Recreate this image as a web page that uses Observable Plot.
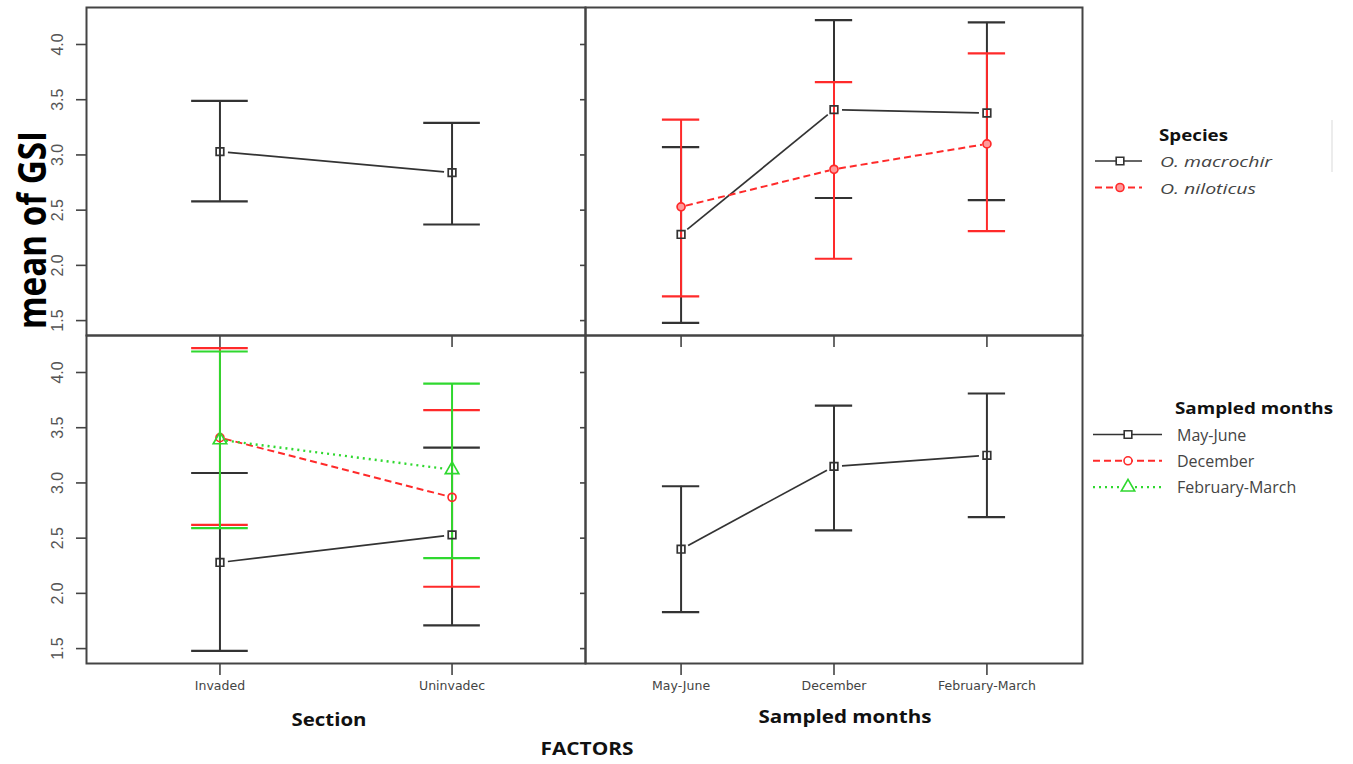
<!DOCTYPE html>
<html><head><meta charset="utf-8">
<script src="https://cdn.jsdelivr.net/npm/d3@7"></script>
<script src="https://cdn.jsdelivr.net/npm/@observablehq/plot@0.6"></script>
<style>
body{margin:0;background:#fff;}
#wrap{position:relative;width:1353px;height:764px;overflow:hidden;background:#fff;}
.abs{position:absolute;}
</style></head><body><div id="wrap"></div>
<script>
// ---- categories / tick labels ----
const sections = ["Invaded", "Uninvadec"];
const months = ["May-June", "December", "February-March"];
const speciesNames = ["O. macrochir", "O. niloticus"];
const monthNames = ["May-June", "December", "February-March"];
const yTicks = [1.5, 2.0, 2.5, 3.0, 3.5, 4.0];

// ---- top-left: Section ----
const sectionMean  = [3.03, 2.84];
const sectionLower = [2.58, 2.37];
const sectionUpper = [3.49, 3.29];

// ---- top-right: Species x Sampled months ----
const macrochirMean  = [2.28, 3.41, 3.38];
const macrochirLower = [1.48, 2.61, 2.59];
const macrochirUpper = [3.07, 4.22, 4.20];
const niloticusMean  = [2.53, 2.87, 3.10];
const niloticusLower = [1.72, 2.06, 2.31];
const niloticusUpper = [3.32, 3.66, 3.92];

// ---- bottom-left: Section x Sampled months ----
const mayJuneMean   = [2.28, 2.53];
const mayJuneLower  = [1.48, 1.71];
const mayJuneUpper  = [3.09, 3.32];
const decemberMean  = [3.41, 2.87];
const decemberLower = [2.62, 2.06];
const decemberUpper = [4.22, 3.66];
const febMarchMean  = [3.39, 3.12];
const febMarchLower = [2.59, 2.32];
const febMarchUpper = [4.19, 3.90];

// ---- bottom-right: Sampled months ----
const monthMean  = [2.40, 3.15, 3.25];
const monthLower = [1.83, 2.57, 2.69];
const monthUpper = [2.97, 3.70, 3.81];

// ---- styles ----
const STY = {
  black: {color:"#333", dash:null, symbol:"square", r:4.3, fill:"none", inset:8, lw:1.7},
  red:   {color:"#ff2a2a", dash:"7,4", symbol:"circle", r:4, fill:"none", inset:5, lw:2},
  redF:  {color:"#ff2a2a", dash:"7,4", symbol:"circle", r:4, fill:"#ff9a9a", inset:5, lw:2},
  green: {color:"#2fd82f", dash:"2,4", symbol:"triangle", r:5, fill:"none", inset:6, lw:2.4}
};

function rows(fy, sty, mean, lower, upper) {
  return mean.map((m, i) => ({fy, sty, i, mean: m, lower: lower[i], upper: upper[i]}));
}
function segs(rs) {
  const out = [];
  for (let k = 0; k < rs.length - 1; k++)
    out.push({fy: rs[k].fy, x1: rs[k].i, y1: rs[k].mean, x2: rs[k+1].i, y2: rs[k+1].mean});
  return out;
}

const leftSeries = [
  rows("top", "black", sectionMean, sectionLower, sectionUpper),
  rows("bottom", "black", mayJuneMean, mayJuneLower, mayJuneUpper),
  rows("bottom", "red", decemberMean, decemberLower, decemberUpper),
  rows("bottom", "green", febMarchMean, febMarchLower, febMarchUpper)
];
const rightSeries = [
  rows("top", "black", macrochirMean, macrochirLower, macrochirUpper),
  rows("top", "redF", niloticusMean, niloticusLower, niloticusUpper),
  rows("bottom", "black", monthMean, monthLower, monthUpper)
];

const capHalf = 0.122;
const H = 700, MT = 6, MB = 37;

function columnPlot({series, cats, xDomain, width, marginLeft, left}) {
  const marks = [];
  for (const rs of series) {
    const s = STY[rs[0].sty];
    marks.push(Plot.ruleX(rs, {x: "i", y1: "lower", y2: "upper", fy: "fy", stroke: s.color, strokeWidth: 2}));
    marks.push(Plot.ruleY(rs, {y: "lower", x1: d => d.i - capHalf, x2: d => d.i + capHalf, fy: "fy", stroke: s.color, strokeWidth: 2.2}));
    marks.push(Plot.ruleY(rs, {y: "upper", x1: d => d.i - capHalf, x2: d => d.i + capHalf, fy: "fy", stroke: s.color, strokeWidth: 2.2}));
  }
  for (const rs of series) {
    const s = STY[rs[0].sty];
    marks.push(Plot.arrow(segs(rs), {x1: "x1", y1: "y1", x2: "x2", y2: "y2", fy: "fy", headLength: 0,
      inset: s.inset, stroke: s.color, strokeWidth: s.lw, strokeDasharray: s.dash, strokeLinecap: "butt"}));
  }
  for (const rs of series) {
    const s = STY[rs[0].sty];
    marks.push(Plot.dot(rs, {x: "i", y: "mean", fy: "fy", symbol: s.symbol, r: s.r, stroke: s.color, fill: s.fill, strokeWidth: 1.7}));
  }
  marks.push(Plot.frame({stroke: "#444", strokeWidth: 2}));
  const xt = d3.range(cats.length);
  marks.push(Plot.axisX({ticks: xt, tickSize: 12, facetAnchor: null, tickFormat: () => "", color: "#444", strokeWidth: 1.6, label: null}));
  marks.push(Plot.axisX({ticks: xt, tickSize: 0, tickPadding: 18, tickFormat: i => cats[i], label: null,
    fontSize: 12.5, fontFamily: "DejaVu Sans", color: "#444"}));
  if (left) {
    marks.push(Plot.axisY({ticks: yTicks, tickSize: 10, tickFormat: () => "", color: "#444", strokeWidth: 1.6, label: null}));
    marks.push(Plot.axisY({ticks: yTicks, tickSize: 0, tickPadding: 24, tickRotate: -90, tickFormat: d3.format(".1f"), label: null,
      fontSize: 16, fontFamily: "Liberation Sans", color: "#555"}));
  } else {
    marks.push(Plot.axisY({ticks: yTicks, tickSize: 5, tickFormat: () => "", color: "#444", strokeWidth: 1.6, label: null}));
  }
  return Plot.plot({
    width, height: H, marginLeft, marginRight: 1, marginTop: MT, marginBottom: MB,
    style: {background: "transparent", overflow: "visible"},
    x: {domain: xDomain},
    y: {domain: [1.365, 4.335]},
    fy: {domain: ["top", "bottom"], padding: 0, axis: null},
    marks
  });
}

const wrap = document.getElementById("wrap");
const leftPlot = columnPlot({series: leftSeries, cats: sections, xDomain: [-0.575, 1.575], width: 586, marginLeft: 86, left: true});
leftPlot.classList.add("abs"); leftPlot.style.left = "0px"; leftPlot.style.top = "0px";
wrap.appendChild(leftPlot);
const rightPlot = columnPlot({series: rightSeries, cats: months, xDomain: [-0.625, 2.625], width: 508, marginLeft: 10, left: false});
rightPlot.classList.add("abs"); rightPlot.style.left = "575px"; rightPlot.style.top = "0px";
wrap.appendChild(rightPlot);

// ---- titles and legends overlay ----
const ov = d3.select(wrap).append("svg").attr("class", "abs").attr("width", 1353).attr("height", 764)
  .style("left", "0px").style("top", "0px").style("pointer-events", "none");
const FF = "'Open Sans', 'DejaVu Sans', sans-serif";
function txt(x, y, s, o = {}) {
  const t = ov.append("text").attr("x", x).attr("y", y).text(s)
    .attr("font-family", o.ff || FF).attr("font-size", o.size || 16)
    .attr("font-weight", o.weight || "normal").attr("font-style", o.style || "normal")
    .attr("fill", o.fill || "#111").attr("text-anchor", o.anchor || "start")
    .attr("dominant-baseline", "central");
  if (o.len) t.attr("textLength", o.len).attr("lengthAdjust", "spacingAndGlyphs");
  if (o.rotate) t.attr("transform", `rotate(${o.rotate},${x},${y})`);
  return t;
}
txt(30, 230, "mean of GSI", {size: 40, weight: "bold", anchor: "middle", rotate: -90, len: 198, fill: "#000"});
txt(329, 719, "Section", {size: 17, weight: "bold", anchor: "middle", len: 75});
txt(845, 716, "Sampled months", {size: 17, weight: "bold", anchor: "middle", len: 173});
txt(587, 748, "FACTORS", {size: 18, weight: "bold", anchor: "middle", len: 93});

function sample(x1, x2, y, key, mx) {
  const s = STY[key];
  ov.append("line").attr("x1", x1).attr("x2", x2).attr("y1", y).attr("y2", y)
    .attr("stroke", s.color).attr("stroke-width", s.lw).attr("stroke-dasharray", s.dash || null);
  const sym = {square: d3.symbolSquare, circle: d3.symbolCircle, triangle: d3.symbolTriangle}[s.symbol];
  ov.append("path").attr("d", d3.symbol(sym, Math.PI * s.r * s.r)()).attr("transform", `translate(${mx},${y})`)
    .attr("stroke", s.color).attr("stroke-width", 1.6).attr("fill", s.fill === "none" ? "#fff" : s.fill);
}
// Species legend
txt(1159, 135, "Species", {size: 16, weight: "bold", len: 69});
const spKeys = ["black", "redF"];
speciesNames.forEach((n, k) => {
  const y = 161 + k * 26.5;
  sample(1095, 1142, y, spKeys[k], 1120);
  txt(1160, y, n, {size: 15, style: "italic", fill: "#444", len: n === "O. macrochir" ? 112 : 96});
});
// Sampled months legend
txt(1175, 408, "Sampled months", {size: 16, weight: "bold", len: 158});
const mKeys = ["black", "red", "green"];
monthNames.forEach((n, k) => {
  const y = 434.5 + k * 26.3;
  sample(1093, 1162, y, mKeys[k], 1128);
  txt(1177, y, n, {size: 16, fill: "#444"});
});
ov.append("line").attr("x1", 1332).attr("x2", 1332).attr("y1", 120).attr("y2", 172).attr("stroke", "#e6e6e6").attr("stroke-width", 1.5);
</script></body></html>
